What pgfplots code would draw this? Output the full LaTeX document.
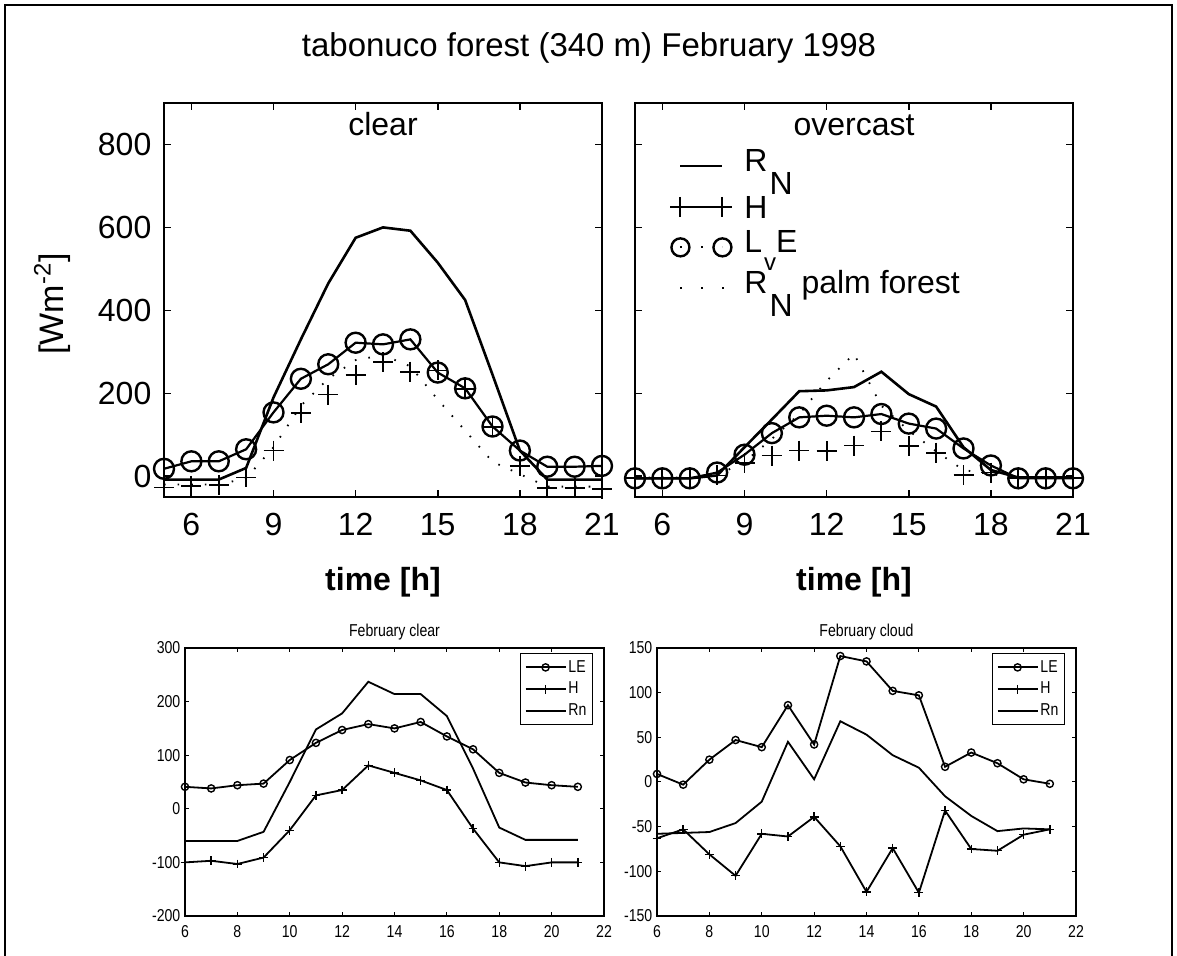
\documentclass[border=0pt]{standalone}
\usepackage{fontspec}
\setmainfont{Liberation Sans}
\newfontfamily\narrow[FakeStretch=0.82]{Liberation Sans}
\usepackage{pgfplots}
\pgfplotsset{compat=1.18}
\newcommand\bigf{\fontsize{16}{18}\selectfont}
\newcommand\smallf{\narrow\fontsize{8.6}{9.5}\selectfont}
\pgfplotsset{
 upper/.style={
  scale only axis, width=219pt, height=197pt,
  xmin=5, xmax=21, ymin=-50, ymax=900,
  xtick={6,9,12,15,18,21}, ytick={0,200,400,600,800},
  tick align=inside, major tick length=3.5pt,
  axis line style={line width=0.9pt},
  tick style={line width=0.8pt, black},
  tick label style={font=\bigf},
  xticklabel style={yshift=-4.5pt},
  yticklabel style={xshift=-2.8pt},
  /pgf/number format/assume math mode=true,
  xlabel={\textbf{time [h]}},
  xlabel style={font=\bigf, at={(axis description cs:0.5,0)}, anchor=base, yshift=-47pt},
  title style={font=\bigf, at={(axis description cs:0.5,1)}, anchor=base, yshift=-22.5pt},
  clip=false,
 },
 rn/.style={black, line width=1.3pt, no marks},
 le/.style={black, line width=1.1pt, mark=o, mark size=5pt, mark options={line width=1.2pt}},
 hh/.style={black, only marks, mark=+, mark size=5pt, mark options={line width=0.9pt}},
 palm/.style={black, line width=0.9pt, dash pattern=on 0.8pt off 6pt, no marks},
 lower/.style={
  scale only axis, width=209.5pt, height=134pt,
  xmin=6, xmax=22, xtick={6,8,...,22},
  tick align=inside, major tick length=2.2pt,
  axis line style={line width=0.6pt}, tick style={line width=0.5pt, black},
  tick label style={font=\smallf},
  xticklabel style={yshift=-1.2pt},
  yticklabel style={xshift=1.2pt},
  /pgf/number format/assume math mode=true,
  title style={font=\smallf, at={(axis description cs:0.5,1)}, anchor=base, yshift=-0.5pt},
  legend style={at={(rel axis cs:0.974,0.981)}, anchor=north east, font=\smallf, draw=black, line width=0.6pt, inner sep=2pt, row sep=1.2pt, cells={anchor=west}, nodes={inner sep=1pt, text height=6.2pt, text depth=1.5pt}},
  legend image code/.code={\draw[mark repeat=2, mark phase=2, ##1] plot coordinates {(0pt,0pt) (10pt,0pt) (20pt,0pt)};},
 },
 lle/.style={black, line width=0.9pt, mark=o, mark size=1.8pt, mark options={line width=0.7pt}},
 lhh/.style={black, line width=0.9pt, mark=+, mark size=2.2pt, mark options={line width=0.7pt}},
 lrn/.style={black, line width=0.9pt, no marks},
}
\newcommand\lift[1]{\raisebox{3pt}{#1}}
\begin{document}
\begin{tikzpicture}
\useasboundingbox (0pt,0pt) rectangle (588.5pt,478pt);
\draw[line width=1pt] (2.5pt,0pt) -- (2.5pt,475.5pt) -- (586pt,475.5pt) -- (586pt,0pt);
\node[font=\fontsize{16.5}{18}\selectfont] at (294.5pt,454pt) {tabonuco forest (340 m) February 1998};
\node[font=\fontsize{17}{18}\selectfont, rotate=90] at (26pt,326pt) {[Wm\textsuperscript{-2}]};

% upper left: clear
\begin{axis}[upper, at={(82pt,229.5pt)}, anchor=south west, title={clear}]
\addplot[rn] coordinates {(5,-8)(6,-8)(7,-8)(8,20)(9,190)(10,330)(11,465)(12,575)(13,600)(14,592)(15,515)(16,425)(17,245)(18,62)(19,-8)(20,-8)(21,-8)};
\addplot[palm] coordinates {(5,-20)(6,-20)(7,-20)(8,-5)(9,70)(10,170)(11,235)(12,280)(13,292)(14,265)(15,185)(16,110)(17,35)(18,5)(19,-25)(20,-25)(21,-25)};
\addplot[le] coordinates {(5,18)(6,36)(7,36)(8,65)(9,154)(10,235)(11,270)(12,322)(13,318)(14,330)(15,250)(16,212)(17,120)(18,62)(19,23)(20,23)(21,25)};
\addplot[hh] coordinates {(5,-27)(6,-23)(7,-21)(8,-3)(9,62)(10,152)(11,197)(12,245)(13,275)(14,252)(15,255)(16,210)(17,118)(18,24)(19,-29)(20,-29)(21,-31)};
\end{axis}

% upper right: overcast
\begin{axis}[upper, at={(317.5pt,229.5pt)}, anchor=south west, title={overcast}, yticklabels={},
  legend style={draw=none, fill=none, at={(rel axis cs:0.08,0.88)}, anchor=north west, font=\bigf, inner sep=0pt, row sep=4.8pt, cells={anchor=west}, nodes={inner sep=2pt, text height=11.5pt, text depth=0pt}, /tikz/every odd column/.style={column sep=4pt}}]
\addplot[rn, forget plot] coordinates {(5,-5)(6,-5)(7,-5)(8,2)(9,70)(10,137)(11,205)(12,207)(13,215)(14,252)(15,198)(16,168)(17,70)(18,15)(19,-3)(20,-3)(21,-3)};
\addplot[palm, forget plot] coordinates {(5,-3)(6,-3)(7,-3)(8,2)(9,35)(10,90)(11,150)(12,230)(13,295)(14,170)(15,110)(16,60)(17,15)(18,5)(19,-3)(20,-3)(21,-3)};
\addplot[le, forget plot] coordinates {(5,-5)(6,-5)(7,-5)(8,9)(9,52)(10,104)(11,142)(12,146)(13,142)(14,150)(15,127)(16,115)(17,67)(18,26)(19,-5)(20,-5)(21,-5)};
\addplot[hh, forget plot] coordinates {(5,-5)(6,-5)(7,-5)(8,2)(9,32)(10,50)(11,62)(12,60)(13,74)(14,108)(15,72)(16,57)(17,3)(18,9)(19,-5)(20,-5)(21,-5)};
\addlegendimage{legend image code/.code={\draw[black, line width=0.7pt] (0pt,0pt) -- (21pt,0pt);}}
\addlegendentry{\lift{R\kern1pt\smash{\raisebox{-0.72em}{N}}}}
\addlegendimage{legend image code/.code={\draw[black, line width=1pt, mark=+, mark size=5pt] plot coordinates {(0pt,0pt) (21pt,0pt)};}}
\addlegendentry{H}
\addlegendimage{legend image code/.code={\draw[black, line width=0.9pt, dash pattern=on 0.8pt off 9.7pt, mark=o, mark size=4.5pt, mark options={solid, line width=1.2pt}] plot coordinates {(0pt,0pt) (21pt,0pt)};}}
\addlegendentry{\lift{L\kern1pt\smash{\raisebox{-0.55em}{\fontsize{12}{12}\selectfont v}}E}}
\addlegendimage{legend image code/.code={\draw[black, line width=0.9pt, dash pattern=on 0.8pt off 9.7pt] (0pt,0pt) -- (21.8pt,0pt);}}
\addlegendentry{\lift{R\kern1pt\smash{\raisebox{-0.72em}{N}} palm forest}}
\end{axis}

% lower left: February clear
\begin{axis}[lower, at={(92.5pt,20pt)}, anchor=south west, ymin=-200, ymax=300, ytick={-200,-100,...,300}, title={February clear}]
\addplot[lle] coordinates {(6,41)(7,38)(8,44)(9,47)(10,91)(11,123)(12,147)(13,158)(14,150)(15,162)(16,135)(17,111)(18,67)(19,49)(20,44)(21,41)};
\addlegendentry{LE}
\addplot[lhh] coordinates {(6,-100)(7,-97)(8,-103)(9,-91)(10,-40)(11,25)(12,35)(13,81)(14,67)(15,53)(16,35)(17,-37)(18,-100)(19,-107)(20,-100)(21,-100)};
\addlegendentry{H}
\addplot[lrn] coordinates {(6,-60)(7,-60)(8,-60)(9,-43)(10,50)(11,148)(12,178)(13,237)(14,214)(15,214)(16,173)(17,75)(18,-35)(19,-58)(20,-58)(21,-58)};
\addlegendentry{Rn}
\end{axis}

% lower right: February cloud
\begin{axis}[lower, at={(328.5pt,20pt)}, anchor=south west, ymin=-150, ymax=150, ytick={-150,-100,...,150}, title={February cloud}]
\addplot[lle] coordinates {(6,9)(7,-3)(8,25)(9,47)(10,39)(11,86)(12,42)(13,141)(14,135)(15,102)(16,97)(17,17)(18,33)(19,21)(20,3)(21,-2)};
\addlegendentry{LE}
\addplot[lhh] coordinates {(6,-63)(7,-53)(8,-81)(9,-105)(10,-58)(11,-61)(12,-39)(13,-72)(14,-123)(15,-74)(16,-124)(17,-32)(18,-75)(19,-77)(20,-59)(21,-53)};
\addlegendentry{H}
\addplot[lrn] coordinates {(6,-58)(7,-57)(8,-56)(9,-46)(10,-22)(11,45)(12,3)(13,68)(14,53)(15,30)(16,16)(17,-16)(18,-38)(19,-55)(20,-52)(21,-53)};
\addlegendentry{Rn}
\end{axis}
\end{tikzpicture}
\end{document}
